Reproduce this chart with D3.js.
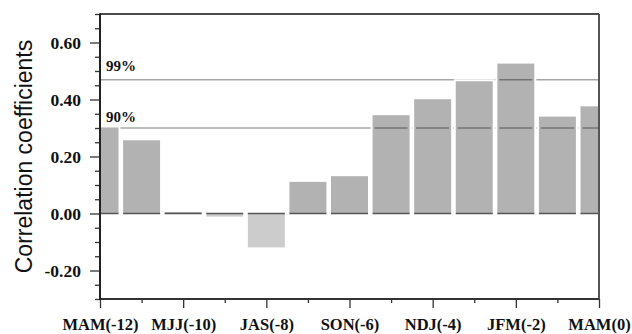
<!DOCTYPE html>
<head>
    <meta charset="utf-8">
    <title>Correlation coefficients</title>
    <script src="https://cdn.jsdelivr.net/npm/d3@7/dist/d3.min.js"></script>
    <style>
        body { margin: 0; background: #fff; }
    </style>
</head>

<body>
    <div id="chart"></div>
</body>

<script>
    // seasons at lags -12 .. 0
    var seasons = ['MAM(-12)', 'AMJ(-11)', 'MJJ(-10)', 'JJA(-9)', 'JAS(-8)', 'ASO(-7)', 'SON(-6)',
        'OND(-5)', 'NDJ(-4)', 'DJF(-3)', 'JFM(-2)', 'FMA(-1)', 'MAM(0)'];
    var lags = [-12, -11, -10, -9, -8, -7, -6, -5, -4, -3, -2, -1, 0];
    var corr = [0.302, 0.257, 0.005, -0.011, -0.119, 0.111, 0.131, 0.345, 0.401, 0.464, 0.526, 0.340, 0.376];

    // significance levels
    var sigNames = ['99%', '90%'];
    var sigLevels = [0.469, 0.300];
    var sigLabelAt = [0.50, 0.32];

    var yMajor = [-0.2, 0, 0.2, 0.4, 0.6];
    var yMinor = [-0.3, -0.25, -0.15, -0.1, -0.05, 0.05, 0.1, 0.15, 0.25, 0.3, 0.35, 0.45, 0.5, 0.55, 0.65, 0.7];

    var width = 632, height = 334;
    var margin = { top: 14, right: 33, bottom: 35, left: 100 };
    var serif = '"Liberation Serif", "Times New Roman", serif';

    var svg = d3.select('#chart')
        .append('svg')
        .attr('width', width)
        .attr('height', height);

    var x = d3.scaleLinear().domain([-12, 0]).range([margin.left, width - margin.right]);
    var y = d3.scaleLinear().domain([-0.3, 0.7]).range([height - margin.bottom, margin.top]);
    var barW = 37;

    svg.append('clipPath')
        .attr('id', 'plot-clip')
        .append('rect')
        .attr('x', margin.left)
        .attr('y', margin.top)
        .attr('width', width - margin.left - margin.right)
        .attr('height', height - margin.top - margin.bottom);

    var plot = svg.append('g').attr('clip-path', 'url(#plot-clip)');

    // significance lines (behind the translucent bars)
    plot.selectAll('line.sig')
        .data(sigLevels)
        .join('line')
        .attr('class', 'sig')
        .attr('x1', margin.left)
        .attr('x2', width - margin.right)
        .attr('y1', d => y(d))
        .attr('y2', d => y(d))
        .attr('stroke', '#7a7a7a')
        .attr('stroke-width', 1);

    plot.selectAll('rect.bar')
        .data(corr)
        .join('rect')
        .attr('class', 'bar')
        .attr('x', (d, i) => x(lags[i]) - barW / 2)
        .attr('width', barW)
        .attr('y', d => y(Math.max(0, d)))
        .attr('height', d => Math.abs(y(d) - y(0)))
        .attr('fill', '#000')
        .attr('fill-opacity', d => d < 0 ? 0.2 : 0.3)
        .attr('stroke', '#fff')
        .attr('stroke-width', 4)
        .attr('paint-order', 'stroke');

    // zero base under each bar
    plot.selectAll('line.base')
        .data(corr)
        .join('line')
        .attr('class', 'base')
        .attr('x1', (d, i) => x(lags[i]) - barW / 2)
        .attr('x2', (d, i) => x(lags[i]) + barW / 2)
        .attr('y1', y(0))
        .attr('y2', y(0))
        .attr('stroke', '#555')
        .attr('stroke-width', 1.5);

    svg.selectAll('text.sig')
        .data(sigNames)
        .join('text')
        .attr('class', 'sig')
        .attr('x', margin.left + 6)
        .attr('y', (d, i) => y(sigLabelAt[i]))
        .attr('font-family', serif)
        .attr('font-weight', 'bold')
        .attr('font-size', 15)
        .attr('fill', '#111')
        .text(d => d);

    // left axis: minor then major ticks
    var fmt = d => d3.format('.2f')(d).replace('\u2212', '-');

    var gyMinor = svg.append('g')
        .attr('transform', `translate(${margin.left},0)`)
        .call(d3.axisLeft(y).tickValues(yMinor).tickSize(5).tickFormat(''));
    var gyMajor = svg.append('g')
        .attr('transform', `translate(${margin.left},0)`)
        .call(d3.axisLeft(y).tickValues(yMajor).tickSize(10).tickFormat(fmt));
    [gyMinor, gyMajor].forEach(g => {
        g.select('.domain').remove();
        g.selectAll('line').attr('stroke', '#333').attr('stroke-width', 1.3);
    });
    gyMajor.selectAll('text')
        .attr('x', -19)
        .attr('dy', '0.33em')
        .attr('font-family', serif)
        .attr('font-weight', 'bold')
        .attr('font-size', 17.5)
        .attr('fill', '#111');

    // bottom axis
    var gx = svg.append('g')
        .attr('transform', `translate(0,${height - margin.bottom})`)
        .call(d3.axisBottom(x).tickValues(lags).tickSize(9)
            .tickFormat((d, i) => i % 2 === 0 ? seasons[i] : ''));
    gx.select('.domain').remove();
    gx.selectAll('line')
        .attr('y2', (d, i) => i % 2 === 0 ? 9 : 4)
        .attr('stroke', '#333')
        .attr('stroke-width', 1.3);
    gx.selectAll('text')
        .attr('y', 31)
        .attr('dy', 0)
        .attr('font-family', serif)
        .attr('font-weight', 'bold')
        .attr('font-size', 16.5)
        .attr('fill', '#111');

    // frame
    var x0 = margin.left, x1 = width - margin.right, y0 = margin.top, y1 = height - margin.bottom;
    svg.append('line').attr('x1', x0).attr('x2', x1).attr('y1', y0).attr('y2', y0)
        .attr('stroke', '#111').attr('stroke-width', 1.5);
    svg.append('line').attr('x1', x1).attr('x2', x1).attr('y1', y0).attr('y2', y1)
        .attr('stroke', '#555').attr('stroke-width', 2);
    svg.append('line').attr('x1', x0).attr('x2', x1).attr('y1', y1).attr('y2', y1)
        .attr('stroke', '#333').attr('stroke-width', 2);
    svg.append('line').attr('x1', x0).attr('x2', x0).attr('y1', y0 - 0.75).attr('y2', y1 + 1)
        .attr('stroke', '#222').attr('stroke-width', 2);

    svg.append('text')
        .attr('transform', `translate(32,${(y0 + y1) / 2}) rotate(-90)`)
        .attr('text-anchor', 'middle')
        .attr('font-family', '"Liberation Sans", Arial, sans-serif')
        .attr('font-size', 23)
        .attr('fill', '#111')
        .text('Correlation coefficients');
</script>
